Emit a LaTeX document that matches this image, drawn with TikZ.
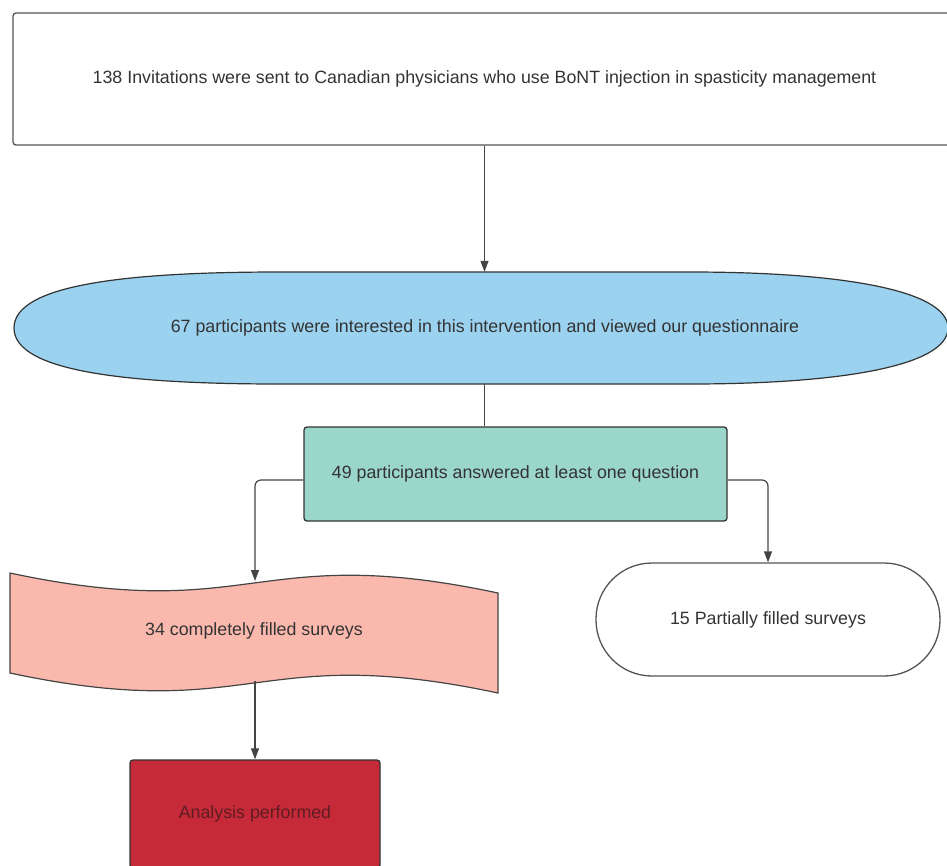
\documentclass[tikz,border=0pt]{standalone}
\usepackage{fontspec}
\setmainfont{Liberation Sans}
\usepackage{xcolor}
\usepackage{tikz}
\usetikzlibrary{arrows.meta,positioning}
\definecolor{flowtext}{RGB}{51,51,51}
\definecolor{flowline}{RGB}{68,68,68}
\definecolor{flowedge}{RGB}{85,85,85}
\definecolor{flowblue}{RGB}{155,210,240}
\definecolor{flowgreen}{RGB}{155,214,203}
\definecolor{flowpink}{RGB}{251,185,174}
\definecolor{flowred}{RGB}{198,42,56}
\definecolor{flowmaroon}{RGB}{95,28,34}

\begin{document}
\begin{tikzpicture}[x=1pt, y=-1pt,
    box/.style={rectangle, draw=flowedge, rounded corners=3pt, line width=1.3pt, font=\fontsize{17.8}{21}\selectfont, text=flowtext},
    label/.style={font=\fontsize{17.8}{21}\selectfont, text=flowtext, inner sep=0pt},
    arrow/.style={-{Triangle[width=8pt,length=11pt]}, line width=1.2pt, draw=flowline},
    link/.style={line width=1.2pt, draw=flowline}
]
    \clip (0,0) rectangle (947,865);

    \node[box, minimum width=943pt, minimum height=132pt] (invite) at (484.5,79)
        {138 Invitations were sent to Canadian physicians who use BoNT injection in spasticity management};

    % flattened ellipse
    \filldraw[fill=flowblue, draw=flowtext, line width=1.2pt]
        (14,328) .. controls (14,284) and (130,272) .. (280,272) -- (690,272)
        .. controls (840,272) and (948,290) .. (948,328)
        .. controls (948,366) and (840,384) .. (690,384) -- (280,384)
        .. controls (130,384) and (14,372) .. (14,328) -- cycle;
    \node[label, minimum width=934pt, minimum height=112pt] (viewed) at (485,328)
        {67 participants were interested in this intervention and viewed our questionnaire};

    \node[box, fill=flowgreen, draw=flowtext, minimum width=423pt, minimum height=94pt] (answered) at (515.5,474)
        {49 participants answered at least one question};

    % wavy document shape
    \filldraw[fill=flowpink, draw=flowline, line width=1.2pt]
        (10,573) .. controls (254,625) and (254,541) .. (498,593) -- (498,693)
        .. controls (254,641) and (254,725) .. (10,673) -- cycle;
    \node[label] (complete) at (254,631) {34 completely filled surveys};
    \coordinate (wavetop) at (255,581);
    \coordinate (wavebot) at (255,681);

    \node[box, rounded corners=56pt, minimum width=344pt, minimum height=113pt] (partial) at (768,619.5)
        {15 Partially filled surveys};

    \node[box, fill=flowred, draw=flowtext, text=flowmaroon, minimum width=250pt, minimum height=108pt] (analysis) at (255,814)
        {Analysis performed};

    \draw[arrow] (invite.south) -- (invite.south |- viewed.north);
    \draw[link] (invite.south |- viewed.south) -- (invite.south |- answered.north);
    \draw[arrow, rounded corners=6pt] ([yshift=-6pt]answered.west) -| (wavetop);
    \draw[arrow, rounded corners=6pt] ([yshift=-6pt]answered.east) -| (partial.north);
    \draw[arrow] (wavebot) -- (analysis.north);
\end{tikzpicture}
\end{document}
